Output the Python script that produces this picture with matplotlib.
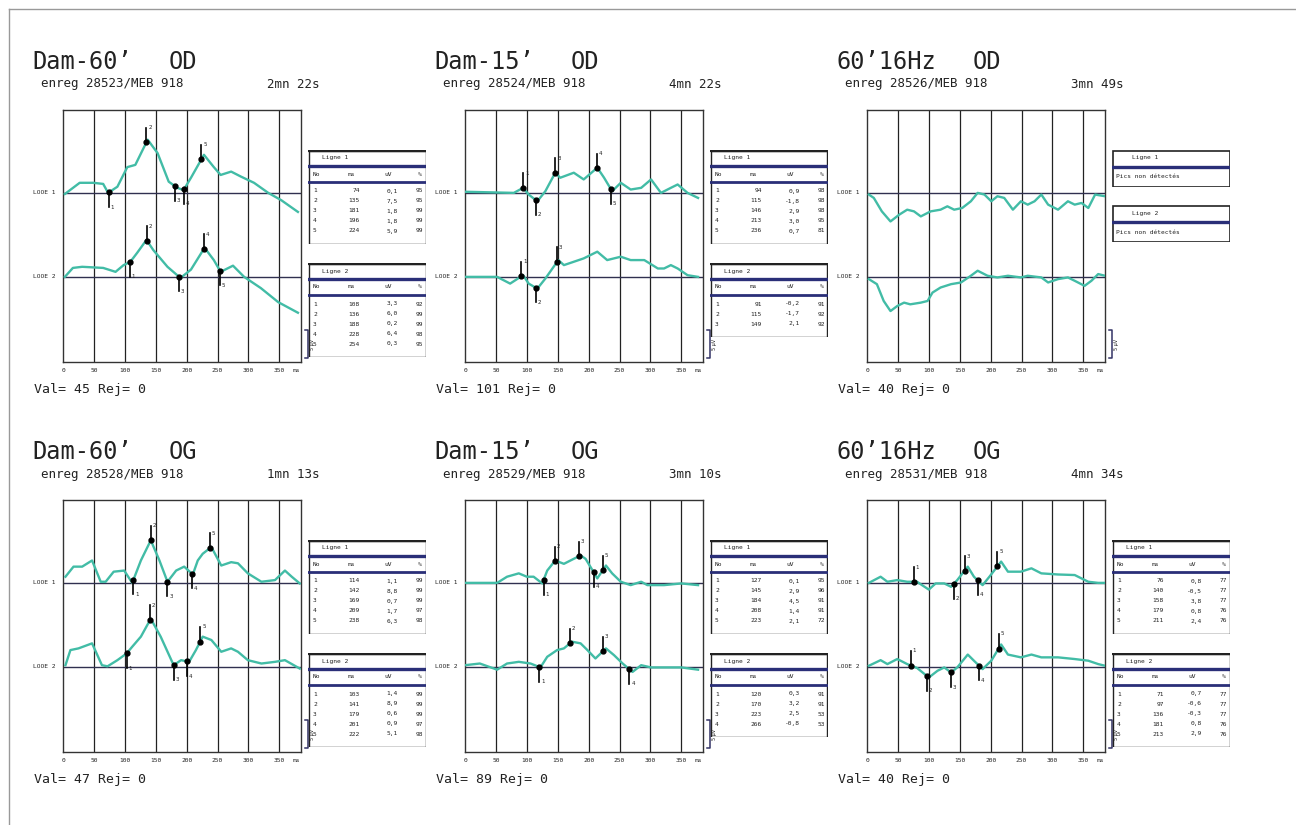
import numpy as np
import matplotlib.pyplot as plt
from matplotlib.lines import Line2D
from matplotlib.patches import Rectangle

# ---- traces (ms, uV) ----
# Dam-60' OD
d60od_ms1 = [3, 27, 49, 65, 73, 88, 104, 117, 137, 153, 171, 185, 195, 207, 228, 244, 255, 272, 288, 309, 332, 353, 380]
d60od_uv1 = [-0.2, 1.8, 1.8, 1.6, 0.0, 1.1, 4.6, 5.0, 9.5, 7.1, 2.0, 0.9, 0.5, 2.7, 6.8, 4.6, 3.2, 3.8, 2.9, 1.8, 0.0, -1.3, -3.4]
d60od_ms2 = [3, 16, 31, 65, 85, 98, 109, 120, 135, 146, 169, 190, 207, 229, 244, 255, 275, 293, 320, 348, 380]
d60od_uv2 = [0.0, 1.6, 1.8, 1.6, 0.9, 2.1, 2.7, 4.3, 6.6, 4.8, 1.8, -0.2, 1.3, 5.2, 3.0, 0.9, 2.0, 0.0, -2.0, -4.5, -6.4]

# Dam-15' OD
d15od_ms1 = [0, 79, 94, 103, 117, 130, 146, 154, 176, 192, 214, 225, 238, 252, 268, 285, 301, 317, 333, 344, 360, 377]
d15od_uv1 = [0.2, 0.0, 0.9, -0.3, -1.5, 0.3, 3.6, 2.7, 3.6, 2.4, 4.5, 2.7, 0.3, 1.8, 0.6, 0.9, 2.4, 0.0, 0.9, 1.5, 0.0, -0.9]
d15od_ms2 = [0, 52, 73, 94, 103, 117, 130, 151, 160, 176, 192, 214, 230, 252, 268, 290, 312, 322, 333, 344, 360, 377]
d15od_uv2 = [0.0, 0.0, -1.2, 0.3, -1.2, -2.1, -0.3, 3.0, 2.1, 2.7, 3.3, 4.5, 3.0, 3.6, 3.0, 3.0, 1.5, 1.5, 2.1, 1.5, 0.3, 0.0]

# 60'16Hz OD
h16od_ms1 = [3, 11, 24, 38, 52, 65, 76, 87, 103, 119, 130, 141, 154, 168, 179, 190, 201, 211, 222, 236,
             249, 260, 271, 282, 293, 309, 325, 336, 347, 358, 369, 385]
h16od_uv1 = [-0.3, -0.9, -3.3, -5.1, -3.9, -3.0, -3.3, -4.2, -3.3, -3.0, -2.4, -3.0, -2.7, -1.5, 0.0, -0.3, -1.5, -0.6, -0.9, -3.0,
             -1.5, -2.1, -1.5, -0.3, -2.1, -3.0, -1.5, -2.1, -1.8, -2.7, -0.3, -0.6]
h16od_ms2 = [3, 16, 27, 38, 49, 60, 70, 87, 98, 106, 119, 136, 152, 168, 179, 195, 211, 228, 249, 260,
             282, 293, 309, 325, 336, 352, 363, 374, 385]
h16od_uv2 = [-0.4, -1.3, -4.3, -6.1, -5.2, -4.6, -4.9, -4.6, -4.3, -2.8, -1.9, -1.3, -1.0, 0.2, 1.1, 0.2, -0.1, 0.2, -0.1, 0.2,
             -0.1, -1.0, -0.4, -0.1, -0.7, -1.6, -0.7, 0.5, 0.2]

# Dam-60' OG
d60og_ms1 = [4, 17, 31, 47, 61, 69, 82, 99, 112, 126, 142, 156, 169, 183, 196, 210, 218, 226, 240, 256,
             272, 283, 299, 321, 343, 359, 370, 383]
d60og_uv1 = [1.1, 2.9, 2.9, 4.0, 0.2, 0.2, 2.0, 2.2, 0.0, 4.0, 7.6, 4.0, 0.2, 2.2, 2.9, 1.5, 4.0, 5.2, 6.4, 3.1,
             3.7, 3.5, 1.7, 0.2, 0.5, 2.2, 1.1, -0.1]
d60og_ms2 = [4, 12, 25, 47, 63, 72, 88, 103, 112, 126, 142, 158, 179, 191, 204, 215, 226, 240, 256, 272,
             283, 299, 321, 343, 359, 383]
d60og_uv2 = [0.3, 3.0, 3.3, 4.2, 0.3, 0.1, 1.2, 2.4, 3.6, 5.4, 8.6, 5.4, 0.3, 1.2, 0.9, 3.0, 5.4, 4.8, 2.7, 3.3,
             2.7, 1.2, 0.6, 0.9, 1.2, -0.3]

# Dam-15' OG
d15og_ms1 = [0, 52, 68, 87, 100, 111, 125, 133, 146, 160, 176, 187, 195, 206, 214, 228, 238, 252, 268, 285, 295, 322, 350, 377]
d15og_uv1 = [0.0, 0.0, 1.1, 1.7, 1.1, 1.1, -0.1, 2.2, 4.0, 3.4, 4.3, 4.9, 4.3, 2.3, 0.8, 3.1, 1.7, 0.2, -0.4, 0.2, -0.4, -0.4, -0.1, -0.4]
d15og_ms2 = [0, 24, 52, 68, 87, 106, 122, 133, 149, 160, 173, 187, 198, 211, 228, 241, 255, 271, 285, 301, 322, 350, 377]
d15og_uv2 = [0.3, 0.6, -0.5, 0.6, 0.9, 0.6, -0.1, 1.8, 3.0, 3.3, 4.5, 4.2, 3.0, 1.5, 3.3, 2.1, 0.6, -0.9, 0.3, -0.1, -0.1, -0.1, -0.5]

# 60'16Hz OG
h16og_ms1 = [3, 22, 33, 49, 65, 81, 89, 100, 111, 125, 136, 146, 163, 173, 187, 198, 217, 228, 249, 266,
             282, 309, 336, 358, 374, 385]
h16og_uv1 = [0.0, 1.1, 0.2, 0.5, 0.2, 0.2, -0.4, -1.2, -0.1, -0.1, -0.7, 0.5, 2.9, 1.1, -0.4, 1.1, 3.8, 2.0, 2.0, 2.6,
             1.7, 1.5, 1.4, 0.2, 0.0, 0.0]
h16og_ms2 = [3, 22, 33, 49, 65, 81, 100, 114, 125, 136, 146, 163, 173, 187, 201, 217, 228, 249, 266, 282,
             309, 336, 358, 374, 385]
h16og_uv2 = [0.2, 1.2, 0.5, 1.4, 0.5, -0.2, -1.9, -0.7, -0.1, -1.0, -0.1, 2.2, 1.1, -0.4, 1.1, 4.0, 2.2, 1.7, 2.2, 1.7,
             1.7, 1.4, 1.1, 0.5, 0.2]

# ---- peak tables (latency ms, amplitude uV, %) ----
d60od_lat1, d60od_amp1, d60od_pct1 = [74, 135, 181, 196, 224], [0.1, 7.5, 1.8, 1.8, 5.9], [95, 95, 99, 99, 99]
d60od_lat2, d60od_amp2, d60od_pct2 = [108, 136, 188, 228, 254], [3.3, 6.0, 0.2, 6.4, 0.3], [92, 99, 99, 98, 95]
d15od_lat1, d15od_amp1, d15od_pct1 = [94, 115, 146, 213, 236], [0.9, -1.8, 2.9, 3.0, 0.7], [98, 98, 98, 95, 81]
d15od_lat2, d15od_amp2, d15od_pct2 = [91, 115, 149], [-0.2, -1.7, 2.1], [91, 92, 92]
d60og_lat1, d60og_amp1, d60og_pct1 = [114, 142, 169, 209, 238], [1.1, 8.8, 0.7, 1.7, 6.3], [99, 99, 99, 97, 98]
d60og_lat2, d60og_amp2, d60og_pct2 = [103, 141, 179, 201, 222], [1.4, 8.9, 0.6, 0.9, 5.1], [99, 99, 99, 97, 98]
d15og_lat1, d15og_amp1, d15og_pct1 = [127, 145, 184, 208, 223], [0.1, 2.9, 4.5, 1.4, 2.1], [95, 96, 91, 91, 72]
d15og_lat2, d15og_amp2, d15og_pct2 = [120, 170, 223, 266], [0.3, 3.2, 2.5, -0.8], [91, 91, 53, 53]
h16og_lat1, h16og_amp1, h16og_pct1 = [76, 140, 158, 179, 211], [0.8, -0.5, 3.8, 0.8, 2.4], [77, 77, 77, 76, 76]
h16og_lat2, h16og_amp2, h16og_pct2 = [71, 97, 136, 181, 213], [0.7, -0.6, -0.3, 0.8, 2.9], [77, 77, 77, 76, 76]

x_ticks = [0, 50, 100, 150, 200, 250, 300, 350]

W, H = 1296, 825
TEAL = '#42bca6'
NAVY = '#2a2f78'
INK = '#222222'
MONO = 'DejaVu Sans Mono'


def fig_rect(x, y, w, h):
    return [x / W, 1 - (y + h) / H, w / W, h / H]


def fmt(v):
    return f'{v:.1f}'.replace('.', ',')


def draw_table(fig, x, y, name, lat, amp, pct):
    n = len(lat)
    h = 44 + 10 * n
    tx = fig.add_axes(fig_rect(x, y, 118, h))
    tx.set_xlim(0, 118)
    tx.set_ylim(h, 0)
    tx.axis('off')
    tx.add_patch(Rectangle((0.5, 0.5), 117, h - 1, fill=False, ec=INK, lw=1.0))
    tx.plot([0, 118], [1, 1], color=INK, lw=1.6)
    tx.text(14, 8, name, fontsize=4.5, family=MONO, va='center', color=INK)
    tx.plot([0, 118], [16, 16], color=NAVY, lw=2.4)
    for cx, lab in [(5, 'No'), (40, 'ms'), (76, 'uV'), (110, '%')]:
        tx.text(cx, 24, lab, fontsize=4.5, family=MONO, va='center', color=INK)
    tx.plot([0, 118], [32, 32], color=NAVY, lw=2.0)
    for i in range(n):
        ry = 41 + 10 * i
        tx.text(5, ry, str(i + 1), fontsize=4.5, family=MONO, va='center', color=INK)
        tx.text(52, ry, str(lat[i]), fontsize=4.5, family=MONO, va='center', ha='right', color=INK)
        tx.text(90, ry, fmt(amp[i]), fontsize=4.5, family=MONO, va='center', ha='right', color=INK)
        tx.text(115, ry, str(pct[i]), fontsize=4.5, family=MONO, va='center', ha='right', color=INK)


def draw_nopeak(fig, x, y, name):
    tx = fig.add_axes(fig_rect(x, y, 118, 37))
    tx.set_xlim(0, 118)
    tx.set_ylim(37, 0)
    tx.axis('off')
    tx.add_patch(Rectangle((0.5, 0.5), 117, 36, fill=False, ec=INK, lw=1.2))
    tx.text(20, 8, name, fontsize=4.5, family=MONO, va='center', color=INK)
    tx.plot([0, 118], [17, 17], color=NAVY, lw=2.4)
    tx.text(4, 27, 'Pics non détectés', fontsize=4.5, family=MONO, va='center', color=INK)


def draw_panel(fig, left, top, title, eye, enreg, duree, val, traces, tables):
    ax = fig.add_axes(fig_rect(left, top, 238, 252))
    ax.set_xlim(0, 385)
    ax.set_ylim(-30.2, 14.8)
    for xv in x_ticks[1:]:
        ax.axvline(xv, color=INK, lw=0.9)
    for s in ax.spines.values():
        s.set_color('#333333')
        s.set_linewidth(1.0)
    ax.set_xticks(x_ticks + [378])
    ax.set_xticklabels([str(t) for t in x_ticks] + ['ms'], family=MONO)
    ax.tick_params(axis='x', length=0, labelsize=4.5, pad=4, colors=INK)
    ax.set_yticks([])

    for i, (ms, uv, lat) in enumerate(traces):
        off = -15 * i
        ax.axhline(off, color='#303050', lw=1.0)
        ax.text(-0.03, off, f'LOOE {i + 1}', transform=ax.get_yaxis_transform(),
                ha='right', va='center', fontsize=4.5, family=MONO, color=INK, clip_on=False)
        ax.plot(ms, np.array(uv) + off, color=TEAL, lw=1.7, zorder=3)
        for j, l in enumerate(lat):
            yv = np.interp(l, ms, uv)
            nb = np.interp([l - 15, l + 15], ms, uv).mean()
            d = 2.6 if yv >= nb else -2.6
            ax.plot([l, l], [yv + off, yv + off + d], color='k', lw=1.2, zorder=4)
            ax.plot(l, yv + off, 'o', color='k', ms=3.5, zorder=5)
            ax.text(l + 3, yv + off + d, str(j + 1), fontsize=4, va='center', color=INK, zorder=5)

    # 5 uV calibration bracket
    ax.plot([391, 396, 396, 391], [-24.5, -24.5, -29.5, -29.5], color='#333366', lw=1.1, clip_on=False)
    ax.text(399, -27, '5 µV', rotation=90, fontsize=3.5, va='center', ha='left', color=INK, clip_on=False)

    tx0 = left - 31
    fig.text(tx0 / W, 1 - (top - 48) / H, title, fontsize=17, family=MONO, va='center', color=INK)
    fig.text((tx0 + 137) / W, 1 - (top - 48) / H, eye, fontsize=17, family=MONO, va='center', color=INK)
    fig.text((tx0 + 9) / W, 1 - (top - 26) / H, enreg, fontsize=9, family=MONO, va='center', color=INK)
    fig.text((tx0 + 235) / W, 1 - (top - 26) / H, duree, fontsize=9, family=MONO, va='center', color=INK)
    fig.text((tx0 + 2) / W, 1 - (top + 280) / H, val, fontsize=9.5, family=MONO, va='center', color=INK)

    tleft = left + 245
    if tables is None:
        draw_nopeak(fig, tleft, top + 40, 'Ligne 1')
        draw_nopeak(fig, tleft, top + 95, 'Ligne 2')
    else:
        (l1, a1, p1), (l2, a2, p2) = tables
        draw_table(fig, tleft, top + 40, 'Ligne 1', l1, a1, p1)
        draw_table(fig, tleft, top + 153, 'Ligne 2', l2, a2, p2)


fig = plt.figure(figsize=(12.96, 8.25), dpi=100)

lefts = [63, 465, 867]
tops = [110, 500]

draw_panel(fig, lefts[0], tops[0], "Dam-60’", 'OD', 'enreg 28523/MEB 918', '2mn 22s', 'Val= 45 Rej= 0',
           [(d60od_ms1, d60od_uv1, d60od_lat1), (d60od_ms2, d60od_uv2, d60od_lat2)],
           [(d60od_lat1, d60od_amp1, d60od_pct1), (d60od_lat2, d60od_amp2, d60od_pct2)])
draw_panel(fig, lefts[1], tops[0], "Dam-15’", 'OD', 'enreg 28524/MEB 918', '4mn 22s', 'Val= 101 Rej= 0',
           [(d15od_ms1, d15od_uv1, d15od_lat1), (d15od_ms2, d15od_uv2, d15od_lat2)],
           [(d15od_lat1, d15od_amp1, d15od_pct1), (d15od_lat2, d15od_amp2, d15od_pct2)])
draw_panel(fig, lefts[2], tops[0], "60’16Hz", 'OD', 'enreg 28526/MEB 918', '3mn 49s', 'Val= 40 Rej= 0',
           [(h16od_ms1, h16od_uv1, []), (h16od_ms2, h16od_uv2, [])], None)
draw_panel(fig, lefts[0], tops[1], "Dam-60’", 'OG', 'enreg 28528/MEB 918', '1mn 13s', 'Val= 47 Rej= 0',
           [(d60og_ms1, d60og_uv1, d60og_lat1), (d60og_ms2, d60og_uv2, d60og_lat2)],
           [(d60og_lat1, d60og_amp1, d60og_pct1), (d60og_lat2, d60og_amp2, d60og_pct2)])
draw_panel(fig, lefts[1], tops[1], "Dam-15’", 'OG', 'enreg 28529/MEB 918', '3mn 10s', 'Val= 89 Rej= 0',
           [(d15og_ms1, d15og_uv1, d15og_lat1), (d15og_ms2, d15og_uv2, d15og_lat2)],
           [(d15og_lat1, d15og_amp1, d15og_pct1), (d15og_lat2, d15og_amp2, d15og_pct2)])
draw_panel(fig, lefts[2], tops[1], "60’16Hz", 'OG', 'enreg 28531/MEB 918', '4mn 34s', 'Val= 40 Rej= 0',
           [(h16og_ms1, h16og_uv1, h16og_lat1), (h16og_ms2, h16og_uv2, h16og_lat2)],
           [(h16og_lat1, h16og_amp1, h16og_pct1), (h16og_lat2, h16og_amp2, h16og_pct2)])

# thin outer frame (top and left edges)
fig.add_artist(Line2D([9 / W, 1], [1 - 9 / H, 1 - 9 / H], color='#999999', lw=1.0))
fig.add_artist(Line2D([9 / W, 9 / W], [0, 1 - 9 / H], color='#999999', lw=1.0))

fig.savefig('out.png', dpi=100)
